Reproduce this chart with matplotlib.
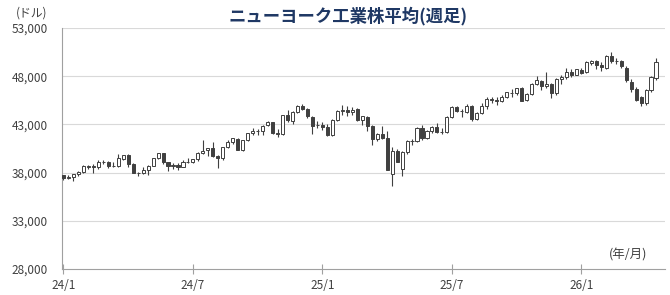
import numpy as np
import matplotlib
matplotlib.use("Agg")
import matplotlib.pyplot as plt

plt.rcParams['font.family'] = ['Noto Sans CJK JP', 'DejaVu Sans']

# Weekly OHLC (Jan 2024 - Apr 2026)
opens = [
    37715, 37450, 37530, 37900, 38100, 38600, 38700, 38600, 39100, 39080,
    38700, 38700, 39450, 39800, 38900, 38000, 38000, 38240, 38700, 39500,
    40000, 39070, 38700, 38800, 38600, 39150, 39150, 39400, 40000, 40300,
    40600, 39700, 39500, 40700, 41200, 41500, 40350, 41400, 42100, 42300,
    42350, 42900, 43250, 42100, 42050, 44000, 43400, 44300, 44900, 44600,
    43800, 42900,
    42950, 42700, 41950, 43500, 44400, 44500, 44300, 44550, 43450, 43800,
    42800, 41500, 42000, 41600, 37850, 40200, 38400, 40100, 41300, 41250,
    42650, 41600, 42270, 42760, 42200, 42200, 43800, 44800, 44370, 44340,
    44900, 43600, 44200, 44950, 45600, 45500, 45400, 45850, 46300, 46250,
    46750, 45500, 46200, 47200, 47550, 47000, 47150, 46250, 47700, 47950,
    48450, 48150,
    48600, 48450, 49400, 49550, 49200, 48850, 50100, 49600, 49600, 48850,
    47450, 46650, 45810, 45190, 46570, 47780]

highs = [
    37790, 37780, 37890, 38200, 38790, 38800, 38930, 39280, 39280, 39200,
    39150, 39890, 39810, 39890, 39000, 38100, 38600, 38800, 39530, 40050,
    40080, 39100, 39000, 38950, 39300, 39500, 39450, 40100, 41380, 40600,
    41200, 39800, 40700, 41400, 41600, 41600, 41400, 42160, 42600, 42500,
    42900, 43330, 43300, 42500, 44000, 44480, 44350, 45000, 45070, 44700,
    43900, 43400,
    43300, 43000, 43600, 44500, 45000, 44900, 44800, 44700, 43900, 43900,
    42900, 42100, 42800, 42300, 40700, 40500, 40200, 41400, 41500, 42700,
    42900, 42450, 42850, 43100, 42600, 43850, 44900, 44900, 44600, 45100,
    45000, 44300, 45200, 45800, 45800, 45800, 46100, 46400, 46700, 46800,
    46900, 46300, 47300, 48050, 47600, 48400, 47300, 47800, 48100, 48900,
    48700, 48750,
    48900, 49600, 49700, 49650, 49500, 50200, 50540, 49900, 49700, 49100,
    47700, 46900, 46000, 46700, 48000, 49900]

lows = [
    37267, 37350, 37120, 37680, 37950, 38400, 38000, 38400, 38870, 38500,
    38600, 38600, 39300, 38600, 37950, 37600, 37860, 37800, 38650, 39400,
    38900, 38200, 38400, 38300, 38550, 39000, 39000, 39200, 39950, 39700,
    39600, 38500, 39300, 40600, 41000, 40300, 40200, 41300, 41900, 41900,
    41900, 42800, 42000, 41700, 41900, 43300, 43000, 44200, 44500, 43700,
    42000, 42600,
    42400, 41800, 41850, 43400, 44000, 43900, 44000, 43400, 42900, 42300,
    40900, 41300, 41500, 38300, 36600, 39100, 37700, 39900, 40900, 41200,
    41400, 41500, 42100, 42150, 42000, 42100, 43700, 44300, 43800, 44200,
    43400, 43500, 44100, 44600, 45200, 45000, 45300, 45700, 45800, 46100,
    45400, 45400, 46100, 47100, 46600, 46800, 45700, 46100, 47200, 47700,
    47900, 48100,
    48200, 48300, 49200, 48700, 48500, 48700, 49400, 49300, 48900, 47400,
    46400, 45400, 44900, 45000, 46400, 47600]

closes = [
    37466, 37593, 37863, 38109, 38654, 38671, 38627, 39131, 39087, 38723,
    38714, 39475, 39807, 38904, 37983, 37986, 38239, 38676, 39513, 40004,
    39070, 38686, 38799, 38589, 39150, 39119, 39375, 40001, 40288, 40589,
    39737, 39498, 40660, 41175, 41563, 40345, 41394, 42063, 42313, 42352,
    42864, 43275, 42114, 42052, 43989, 43445, 44297, 44911, 44642, 43828,
    42840, 42992,
    42732, 41938, 43488, 44424, 44545, 44303, 44546, 43428, 43841, 42802,
    41488, 41985, 41583, 38315, 40213, 39142, 40114, 41317, 41249, 42655,
    41603, 42270, 42763, 42198, 42207, 43819, 44829, 44371, 44342, 44902,
    43589, 44176, 44946, 45632, 45545, 45401, 45834, 46315, 46247, 46758,
    45480, 46191, 47207, 47563, 46987, 47147, 46245, 47716, 47955, 48458,
    48135, 48711,
    48380, 49500, 49580, 49150, 48990, 50100, 49600, 49550, 49060, 47600,
    46640, 45530, 45190, 46570, 47890, 49500]

tick_weeks = [0, 26, 52, 78, 104]
tick_labels = ['24/1', '24/7', '25/1', '25/7', '26/1']
y_ticks = [28000, 33000, 38000, 43000, 48000, 53000]

o = np.array(opens)
h = np.array(highs)
l = np.array(lows)
c = np.array(closes)
x = np.arange(len(o))
up = c >= o

edge = '#404040'
fig = plt.figure(figsize=(6.7, 2.95), dpi=100)
ax = fig.add_axes([0.0925, 0.088, 0.9, 0.817])

for yv in y_ticks[1:]:
    ax.axhline(yv, color='#D9D9D9', lw=0.8, zorder=0)

ax.vlines(x, l, h, color=edge, lw=0.8, zorder=2)
bottom = np.minimum(o, c)
height = np.abs(c - o)
ax.bar(x[up], height[up], bottom=bottom[up], width=0.62,
       color='white', edgecolor=edge, lw=0.7, zorder=3)
ax.bar(x[~up], height[~up], bottom=bottom[~up], width=0.62,
       color=edge, edgecolor=edge, lw=0.7, zorder=3)

ax.set_xlim(-0.3, 120.8)
ax.set_ylim(28000, 53000)
ax.set_yticks(y_ticks)
ax.set_yticklabels([f'{v:,}' for v in y_ticks], fontsize=8.5, color='#404040')
ax.set_xticks(tick_weeks)
ax.set_xticklabels(tick_labels, fontsize=8.5, color='#404040')
ax.tick_params(axis='y', length=0, pad=10)
ax.tick_params(axis='x', direction='inout', length=7, color='#A0A0A0', pad=4)

for s in ['top', 'right']:
    ax.spines[s].set_visible(False)
for s in ['left', 'bottom']:
    ax.spines[s].set_color('#A0A0A0')
    ax.spines[s].set_linewidth(0.8)

fig.text(0.52, 0.945, 'ニューヨーク工業株平均(週足)', ha='center', va='center',
         fontsize=12.5, fontweight='bold', color='#1F3864')
fig.text(0.047, 0.955, '(ドル)', ha='center', va='center', fontsize=8.5, color='#404040')
fig.text(0.937, 0.135, '(年/月)', ha='center', va='center', fontsize=9, color='#404040')

fig.savefig('out.png', dpi=100)
